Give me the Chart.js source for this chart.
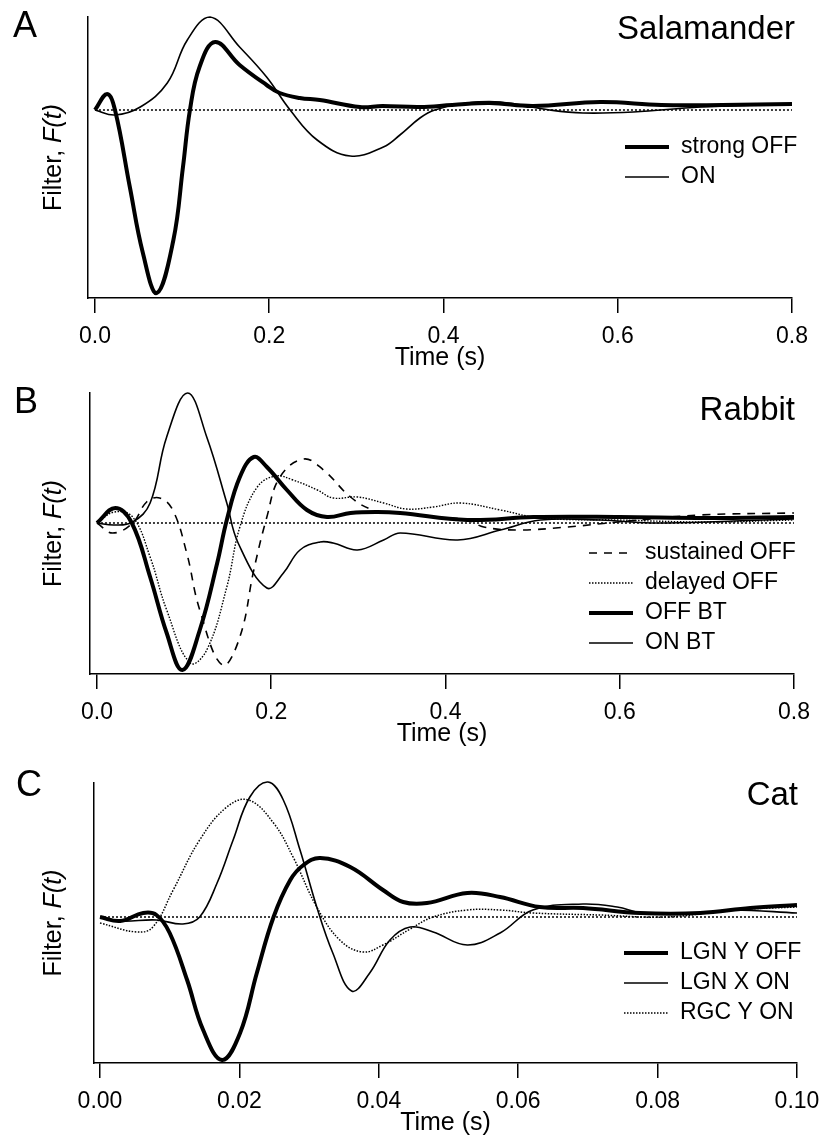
<!DOCTYPE html>
<html>
<head>
<meta charset="utf-8">
<script src="https://cdn.jsdelivr.net/npm/chart.js@4.4.1/dist/chart.umd.min.js"></script>
<style>
  html, body { margin: 0; padding: 0; background: #fff; }
  canvas.panel { position: absolute; left: 0; }
</style>
</head>
<body>
<canvas id="chartA" class="panel" width="823" height="372" style="top:0px"></canvas>
<canvas id="chartB" class="panel" width="823" height="378" style="top:372px"></canvas>
<canvas id="chartC" class="panel" width="823" height="390" style="top:750px"></canvas>
<script>
// ---- data (arbitrary filter units, 0 = baseline) ----
// A: Salamander
const salTicks = [0, 0.2, 0.4, 0.6, 0.8];
const salOffT = [0, 0.014, 0.023, 0.040, 0.055, 0.071, 0.090, 0.101, 0.109, 0.120, 0.138, 0.166, 0.197, 0.212, 0.235, 0.258, 0.304, 0.33, 0.373, 0.41, 0.453, 0.503, 0.58, 0.65, 0.72, 0.8];
const salOffV = [0, 0.16, 0, -0.77, -1.43, -1.83, -1.30, -0.57, 0, 0.43, 0.68, 0.45, 0.25, 0.17, 0.12, 0.10, 0.03, 0.04, 0.03, 0.05, 0.07, 0.04, 0.08, 0.05, 0.05, 0.06];
const salOnT = [0, 0.023, 0.052, 0.083, 0.106, 0.132, 0.166, 0.197, 0.224, 0.255, 0.293, 0.331, 0.35, 0.373, 0.39, 0.427, 0.465, 0.522, 0.56, 0.618, 0.695, 0.8];
const salOnV = [0, -0.05, 0.03, 0.27, 0.70, 0.93, 0.63, 0.33, 0, -0.30, -0.46, -0.37, -0.25, -0.08, 0, 0.07, 0.08, 0, -0.03, -0.02, 0.03, 0.06];

// B: Rabbit
const rabTicks = [0, 0.2, 0.4, 0.6, 0.8];
const rabSusT = [0, 0.018, 0.041, 0.057, 0.072, 0.087, 0.103, 0.118, 0.144, 0.164, 0.180, 0.195, 0.210, 0.237, 0.260, 0.291, 0.317, 0.348, 0.386, 0.425, 0.444, 0.483, 0.540, 0.598, 0.693, 0.8];
const rabSusV = [0, -0.10, 0, 0.21, 0.25, 0.13, -0.30, -0.87, -1.42, -1.14, -0.47, 0.06, 0.46, 0.64, 0.53, 0.26, 0.13, 0.10, 0.06, 0.03, -0.04, -0.07, -0.04, 0.01, 0.08, 0.10];
const rabDelT = [0, 0.02, 0.041, 0.061, 0.080, 0.107, 0.126, 0.149, 0.164, 0.184, 0.205, 0.225, 0.253, 0.271, 0.299, 0.329, 0.355, 0.386, 0.417, 0.463, 0.509, 0.598, 0.7, 0.8];
const rabDelV = [0, 0.11, 0.06, -0.34, -0.87, -1.40, -1.27, -0.64, -0.04, 0.36, 0.47, 0.43, 0.33, 0.25, 0.26, 0.20, 0.14, 0.16, 0.20, 0.13, 0.05, 0.03, 0.01, 0.03];
const rabOffT = [0, 0.021, 0.040, 0.061, 0.080, 0.098, 0.118, 0.138, 0.149, 0.164, 0.180, 0.195, 0.218, 0.241, 0.264, 0.291, 0.322, 0.348, 0.425, 0.501, 0.6, 0.7, 0.8];
const rabOffV = [0, 0.15, 0, -0.54, -1.10, -1.47, -1.07, -0.40, 0.03, 0.46, 0.66, 0.56, 0.33, 0.13, 0.06, 0.10, 0.11, 0.10, 0.03, 0.06, 0.06, 0.05, 0.06];
const rabOnT = [0, 0.02, 0.041, 0.061, 0.080, 0.104, 0.126, 0.149, 0.162, 0.195, 0.214, 0.233, 0.256, 0.271, 0.299, 0.329, 0.348, 0.414, 0.463, 0.509, 0.578, 0.636, 0.731, 0.8];
const rabOnV = [0, -0.02, 0.01, 0.20, 0.86, 1.30, 0.86, 0.20, -0.20, -0.65, -0.50, -0.27, -0.19, -0.20, -0.27, -0.17, -0.10, -0.17, -0.07, 0.03, 0.03, 0, 0.02, 0.04];

// C: Cat
const catTicks = [0, 0.02, 0.04, 0.06, 0.08, 0.10];
const catYOffT = [0, 0.0029, 0.0062, 0.0081, 0.0100, 0.0125, 0.0148, 0.0175, 0.0201, 0.0225, 0.0249, 0.0273, 0.0292, 0.0316, 0.0359, 0.0406, 0.0435, 0.0469, 0.0527, 0.0574, 0.0631, 0.0693, 0.0775, 0.0861, 0.0933, 0.1];
const catYOffV = [0, -0.04, 0.04, 0.02, -0.16, -0.63, -1.13, -1.43, -1.16, -0.56, 0, 0.37, 0.52, 0.59, 0.50, 0.27, 0.15, 0.14, 0.24, 0.20, 0.10, 0.09, 0.04, 0.04, 0.09, 0.12];
const catXOnT = [0, 0.0029, 0.0081, 0.0119, 0.0143, 0.0168, 0.0191, 0.0215, 0.0241, 0.0263, 0.0287, 0.0311, 0.0334, 0.0361, 0.0387, 0.0416, 0.0445, 0.0478, 0.0527, 0.0574, 0.0621, 0.0693, 0.0742, 0.0779, 0.0861, 0.0908, 0.1];
const catXOnV = [0, -0.04, -0.03, -0.07, 0, 0.34, 0.77, 1.20, 1.35, 1.17, 0.67, 0.10, -0.36, -0.74, -0.56, -0.23, -0.10, -0.15, -0.28, -0.16, 0.07, 0.13, 0.10, 0.04, 0.04, 0.07, 0.04];
const catRgcT = [0, 0.0053, 0.0076, 0.0105, 0.0143, 0.0182, 0.0213, 0.0249, 0.0277, 0.0311, 0.0344, 0.0377, 0.0406, 0.0445, 0.0478, 0.0527, 0.0574, 0.0621, 0.0717, 0.0813, 0.0908, 0.1];
const catRgcV = [-0.06, -0.15, -0.10, 0.27, 0.77, 1.10, 1.17, 0.94, 0.60, 0.10, -0.23, -0.35, -0.28, -0.12, 0, 0.07, 0.07, 0.04, 0.02, 0, 0.07, 0.10];

const FONT = "'Liberation Sans', Arial, Helvetica, sans-serif";
Chart.defaults.font.family = FONT;
Chart.defaults.color = '#000';

function line(label, xs, ys, width, dash) {
  return {
    label: label,
    data: xs.map((x, i) => ({x: x, y: ys[i]})),
    borderColor: '#000',
    borderWidth: width,
    borderDash: dash || [],
    borderCapStyle: 'butt',
    borderJoinStyle: 'round',
    pointRadius: 0,
    fill: false,
    tension: 0.4,
    clip: false
  };
}

function zeroLine(end) {
  const d = line('', [0, end], [0, 0], 1.5, [2, 2]);
  d.tension = 0;
  return d;
}

// draws panel letter, species name, y title and the legend
const panelText = {
  id: 'panelText',
  afterDraw(chart, args, o) {
    const ctx = chart.ctx;
    const ca = chart.chartArea;
    ctx.save();
    ctx.fillStyle = '#000';
    ctx.textBaseline = 'alphabetic';
    ctx.textAlign = 'left';
    ctx.font = '36px ' + FONT;
    ctx.fillText(o.letter[0], o.letter[1], o.letter[2]);
    ctx.textAlign = 'right';
    ctx.font = '33px ' + FONT;
    ctx.fillText(o.title[0], o.title[1], o.title[2]);

    // legend
    ctx.textAlign = 'left';
    ctx.textBaseline = 'middle';
    ctx.font = '23px ' + FONT;
    o.items.forEach((idx, r) => {
      const ds = chart.data.datasets[idx];
      const y = o.rows[r];
      ctx.save();
      ctx.strokeStyle = '#000';
      ctx.lineWidth = ds.borderWidth;
      ctx.setLineDash(ds.borderDash);
      ctx.beginPath();
      ctx.moveTo(o.lx1, y);
      ctx.lineTo(o.lx2, y);
      ctx.stroke();
      ctx.restore();
      ctx.fillText(ds.label, o.tx, y);
    });

    // y axis title "Filter, F(t)"
    ctx.translate(61, (ca.top + ca.bottom) / 2);
    ctx.rotate(-Math.PI / 2);
    ctx.textBaseline = 'alphabetic';
    const a = 'Filter, ', b = 'F(t)';
    ctx.font = '25px ' + FONT;
    const wa = ctx.measureText(a).width;
    ctx.font = 'italic 25px ' + FONT;
    const wb = ctx.measureText(b).width;
    const x0 = -(wa + wb) / 2;
    ctx.font = '25px ' + FONT;
    ctx.fillText(a, x0, 0);
    ctx.font = 'italic 25px ' + FONT;
    ctx.fillText(b, x0 + wa, 0);
    ctx.restore();
  }
};

function xScale(min, max, ticks, decimals) {
  return {
    type: 'linear',
    min: min,
    max: max,
    afterBuildTicks: s => { s.ticks = ticks.map(v => ({value: v})); },
    afterFit: s => { s.height = 73; s.paddingLeft = 0; s.paddingRight = 0; },
    ticks: {
      font: {size: 23, lineHeight: 1},
      color: '#000',
      padding: 12,
      maxRotation: 0,
      autoSkip: false,
      callback: v => Number(v).toFixed(decimals)
    },
    grid: {drawOnChartArea: false, drawTicks: true, tickLength: 15, color: '#000', lineWidth: 1.5},
    border: {display: true, color: '#000', width: 1.5},
    title: {display: true, text: 'Time (s)', font: {size: 25, lineHeight: 1}, color: '#000', padding: 0}
  };
}

function yScale(min, max) {
  return {
    type: 'linear',
    min: min,
    max: max,
    ticks: {display: false},
    grid: {display: false, drawTicks: false},
    border: {display: true, color: '#000', width: 1.5},
    afterFit: s => { s.width = 0; }
  };
}

function makeChart(id, datasets, x, y, padding, text) {
  return new Chart(document.getElementById(id), {
    type: 'line',
    data: {datasets: datasets},
    options: {
      responsive: false,
      animation: false,
      layout: {padding: padding},
      scales: {x: x, y: y},
      plugins: {legend: {display: false}, tooltip: {enabled: false}, panelText: text}
    },
    plugins: [panelText]
  });
}

makeChart('chartA',
  [zeroLine(0.8),
   line('strong OFF', salOffT, salOffV, 4),
   line('ON', salOnT, salOnV, 1.6)],
  xScale(-0.008, 0.8, salTicks, 1),
  yScale(-1.88, 0.93),
  {top: 17, left: 88, right: 31, bottom: 1},
  {letter: ['A', 13, 37], title: ['Salamander', 795, 39], items: [1, 2], rows: [147, 177], lx1: 625, lx2: 669, tx: 681});

makeChart('chartB',
  [zeroLine(0.8),
   line('sustained OFF', rabSusT, rabSusV, 1.6, [8, 7]),
   line('delayed OFF', rabDelT, rabDelV, 1.4, [1.5, 1.5]),
   line('OFF BT', rabOffT, rabOffV, 4),
   line('ON BT', rabOnT, rabOnV, 1.6)],
  xScale(-0.008, 0.8, rabTicks, 1),
  yScale(-1.51, 1.30),
  {top: 21, left: 90, right: 29, bottom: 3},
  {letter: ['B', 14, 41], title: ['Rabbit', 795, 48], items: [1, 2, 3, 4], rows: [181, 211, 241, 271], lx1: 589, lx2: 633, tx: 645});

makeChart('chartC',
  [zeroLine(0.1),
   line('LGN Y OFF', catYOffT, catYOffV, 4),
   line('LGN X ON', catXOnT, catXOnV, 1.6),
   line('RGC Y ON', catRgcT, catRgcV, 1.5, [1.5, 1.5])],
  xScale(-0.00086, 0.1, catTicks, 2),
  yScale(-1.46, 1.34),
  {top: 33, left: 94, right: 26, bottom: 4},
  {letter: ['C', 16, 46], title: ['Cat', 798, 55], items: [1, 2, 3], rows: [203, 233, 263], lx1: 624, lx2: 668, tx: 680});
</script>
</body>
</html>
